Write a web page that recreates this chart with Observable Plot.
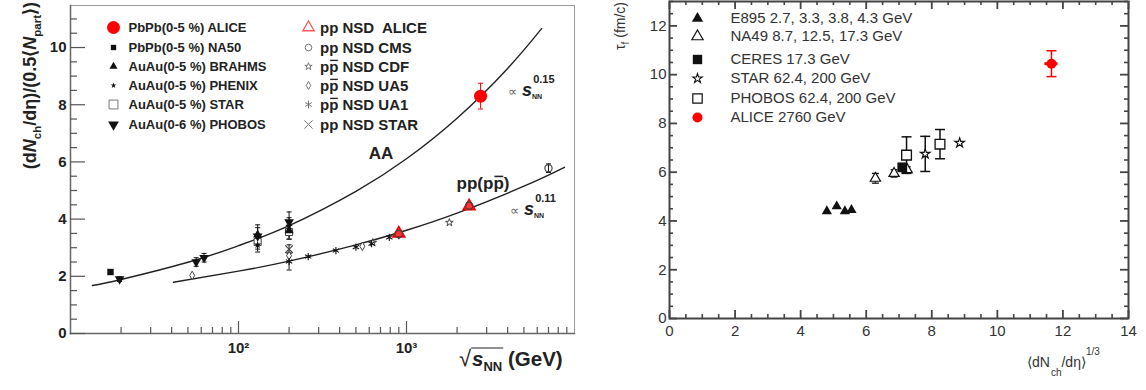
<!DOCTYPE html>
<html>
<head>
<meta charset="utf-8">
<script src="https://cdn.jsdelivr.net/npm/d3@7"></script>
<script src="https://cdn.jsdelivr.net/npm/@observablehq/plot@0.6"></script>
<style>
  body { margin: 0; background: #fff; }
  #wrap { position: relative; width: 1146px; height: 390px; overflow: hidden; background: #fff; }
  #left { position: absolute; left: 0; top: 0; width: 590px; height: 390px; }
  #right { position: absolute; left: 590px; top: 0; width: 556px; height: 390px; }
  .overlay { position: absolute; left: 0; top: 0; pointer-events: none; }
</style>
</head>
<body>
<div id="wrap"><div id="left"></div><div id="right"></div></div>
<script>
// ===== Left panel: (dNch/dη)/(0.5<Npart>) versus √sNN =====
// power-law guide curves (points along each curve)
const aaFit = [
  {s: 13.5, v: 1.68}, {s: 20, v: 1.89}, {s: 50, v: 2.49}, {s: 100, v: 3.07}, {s: 200, v: 3.77},
  {s: 500, v: 4.97}, {s: 1000, v: 6.11}, {s: 2000, v: 7.53}, {s: 4000, v: 9.27}, {s: 6370, v: 10.66}
];
const ppFit = [
  {s: 41, v: 1.79}, {s: 100, v: 2.18}, {s: 200, v: 2.53}, {s: 500, v: 3.10},
  {s: 1000, v: 3.61}, {s: 2000, v: 4.21}, {s: 5000, v: 5.15}, {s: 8710, v: 5.81}
];
// nucleus-nucleus measurements
const pbpbAlice  = [{s: 2760, v: 8.3, err: 0.45}];
const pbpbNA50   = [{s: 17.3, v: 2.15, err: 0.08}];
const auauBrahms = [{s: 130, v: 3.45, err: 0.35}, {s: 200, v: 3.6, err: 0.3}];
const auauPhenix = [{s: 130, v: 3.1, err: 0.25}, {s: 200, v: 3.75, err: 0.3}];
const auauStar   = [{s: 130, v: 3.2, err: 0.25}, {s: 200, v: 3.55, err: 0.25}];
const auauPhobos = [{s: 19.6, v: 1.9, err: 0.08}, {s: 56, v: 2.5, err: 0.15}, {s: 62.4, v: 2.65, err: 0.15},
                    {s: 130, v: 3.4, err: 0.3}, {s: 200, v: 3.9, err: 0.35}];
// pp / ppbar measurements
const ppAlice  = [{s: 900, v: 3.5, err: 0.1}, {s: 2360, v: 4.45, err: 0.12}];
const ppCMS    = [{s: 900, v: 3.48, err: 0.1}, {s: 2360, v: 4.47, err: 0.1}, {s: 7000, v: 5.78, err: 0.15}];
const ppbarCDF = [{s: 630, v: 3.18}, {s: 1800, v: 3.88}];
const ppbarUA5 = [{s: 53, v: 2.03}, {s: 200, v: 2.72}, {s: 546, v: 3.05}, {s: 900, v: 3.45}];
const ppbarUA1 = [{s: 200, v: 2.52, err: 0.3}, {s: 260, v: 2.69}, {s: 380, v: 2.9}, {s: 500, v: 3.02},
                  {s: 620, v: 3.14}, {s: 790, v: 3.36}, {s: 900, v: 3.45}];
const ppStar   = [{s: 200, v: 2.95, err: 0.15}];

// legend labels; "\u0305" marks an antiparticle bar over the preceding letter
const leftLegendA = ["PbPb(0-5 %) ALICE", "PbPb(0-5 %) NA50", "AuAu(0-5 %) BRAHMS",
                     "AuAu(0-5 %) PHENIX", "AuAu(0-5 %) STAR", "AuAu(0-6 %) PHOBOS"];
const leftLegendB = ["pp NSD  ALICE", "pp NSD CMS", "pp\u0305 NSD CDF",
                     "pp\u0305 NSD UA5", "pp\u0305 NSD UA1", "pp NSD STAR"];
const curveLabels = ["AA", "pp(pp\u0305)"];
const xTickValuesL = [100, 1000];
const xTickLabelsL = ["10\u00b2", "10\u00b3"];
const yTickValuesL = [0, 2, 4, 6, 8, 10];

// ===== Right panel: freeze-out time τf versus <dNch/dη>^(1/3) =====
const e895   = [{x: 4.8, v: 4.4}, {x: 5.1, v: 4.6}, {x: 5.35, v: 4.4}, {x: 5.55, v: 4.45}];
const na49   = [{x: 6.28, v: 5.75, err: 0.2}, {x: 6.85, v: 5.95, err: 0.15}, {x: 7.25, v: 6.1, err: 0.12}];
const ceres  = [{x: 7.1, v: 6.2}];
const starR  = [{x: 7.8, v: 6.75, err: 0.72}, {x: 8.85, v: 7.2, err: 0}];
const phobos = [{x: 7.23, v: 6.7, err: 0.75}, {x: 8.25, v: 7.15, err: 0.6}];
const alice  = [{x: 11.65, v: 10.45, err: 0.53, xerr: 0.2}];
const rightLegend = ["E895 2.7, 3.3, 3.8, 4.3 GeV", "NA49 8.7, 12.5, 17.3 GeV", "CERES 17.3 GeV",
                     "STAR 62.4, 200 GeV", "PHOBOS 62.4, 200 GeV", "ALICE 2760 GeV"];
const xTickValuesR = [0, 2, 4, 6, 8, 10, 12, 14];
const yTickValuesR = [0, 2, 4, 6, 8, 10, 12];

// ---------- helpers ----------
const FONT = "'Liberation Sans', Arial, Helvetica, sans-serif";
const capSymbol = {draw(ctx, size) { const r = Math.sqrt(size / Math.PI); ctx.moveTo(-r, 0); ctx.lineTo(r, 0); }};

// inward-pointing tick marks along one side of a frame of size fw x fh
function ticks(values, side, length, fw, fh, stroke, strokeWidth) {
  if (side === "bottom") return Plot.tickX(values, {x: Plot.identity, insetTop: fh - length, stroke, strokeWidth});
  if (side === "top") return Plot.tickX(values, {x: Plot.identity, insetBottom: fh - length, stroke, strokeWidth});
  if (side === "left") return Plot.tickY(values, {y: Plot.identity, insetRight: fw - length, stroke, strokeWidth});
  return Plot.tickY(values, {y: Plot.identity, insetLeft: fw - length, stroke, strokeWidth});
}
// vertical error bars with caps
function errY(data, xKey, {stroke = "#111", cap = 2.5, strokeWidth = 1} = {}) {
  const d = data.filter(p => p.err > 0);
  return [
    Plot.ruleX(d, {x: xKey, y1: p => p.v - p.err, y2: p => p.v + p.err, stroke, strokeWidth}),
    Plot.dot(d, {x: xKey, y: p => p.v - p.err, symbol: capSymbol, r: cap, stroke, strokeWidth}),
    Plot.dot(d, {x: xKey, y: p => p.v + p.err, symbol: capSymbol, r: cap, stroke, strokeWidth})
  ];
}
// legend symbol / label positioned from the frame's top-left corner
function legendDot(i, {mx, rows, sym}) {
  return Plot.dot([i], {frameAnchor: "top-left", dx: mx, dy: rows[i], ...sym[i]});
}
function legendText(label, i, {tx, rows, textOpts}) {
  return Plot.text([label], {frameAnchor: "top-left", dx: tx, dy: rows[i], text: d => d,
                             textAnchor: "start", lineAnchor: "middle", ...textOpts});
}
// text with sub/superscripts
function richText(svg, {x, y, rotate = 0, anchor = "start", size = 14, weight = "normal", fill = "#000"}, parts) {
  const t = d3.select(svg).append("text")
    .attr("transform", `translate(${x},${y}) rotate(${rotate})`)
    .attr("text-anchor", anchor).attr("font-family", FONT)
    .attr("font-size", size).attr("font-weight", weight).attr("fill", fill);
  let base = 0;
  for (const p of parts) {
    const off = p.off || 0;
    const ts = t.append("tspan").attr("dy", off - base).text(p.t);
    base = off;
    if (p.size) ts.attr("font-size", p.size);
    if (p.italic) ts.attr("font-style", "italic");
    if (p.weight) ts.attr("font-weight", p.weight);
    if (p.fill) ts.attr("fill", p.fill);
    if (p.dx) ts.attr("dx", p.dx);
  }
  return t;
}
// plain text where a letter followed by U+0305 receives a bar drawn above it
function barText(svg, str, {x, y, size, weight = "bold", fill = "#222", anchor = "start"}) {
  const bars = [];
  let plain = "";
  for (const ch of str) {
    if (ch === "\u0305") bars.push(plain.length - 1); else plain += ch;
  }
  const t = d3.select(svg).append("text")
    .attr("x", x).attr("y", y).attr("text-anchor", anchor).attr("font-family", FONT)
    .attr("font-size", size).attr("font-weight", weight).attr("fill", fill).text(plain);
  for (const i of bars) {
    const r = t.node().getExtentOfChar(i);
    d3.select(svg).append("line")
      .attr("x1", r.x + 1).attr("x2", r.x + r.width - 0.5)
      .attr("y1", y - 0.74 * size).attr("y2", y - 0.74 * size)
      .attr("stroke", fill).attr("stroke-width", size * 0.09);
  }
}

// ---------- left panel ----------
const ink = "#111";
const grey = "#444";
const LEFT_DIMS = {width: 590, height: 390, marginLeft: 70, marginRight: 16, marginTop: 5, marginBottom: 57};
const FW_L = 590 - 70 - 16, FH_L = 390 - 5 - 57;
const xScaleL = {type: "log", domain: [10, 10000]};
const yScaleL = {domain: [0, 11.47]};
const yMinorL = d3.range(0, 11.5, 0.5).filter(v => v % 2 !== 0);
const xMinorL = [20, 30, 40, 50, 60, 70, 80, 90, 200, 300, 400, 500, 600, 700, 800, 900,
                 2000, 3000, 4000, 5000, 6000, 7000, 8000, 9000];

const legSymA = [
  {symbol: "circle", r: 6.5, fill: "#f00"},
  {symbol: "square", r: 3, fill: ink},
  {symbol: "triangle", r: 3, fill: ink},
  {symbol: "star", r: 1.8, fill: ink},
  {symbol: "square", r: 5, fill: "none", stroke: "#777", strokeWidth: 1},
  {symbol: "triangle", r: 4, fill: ink, rotate: 180}
];
const legSymB = [
  {symbol: "triangle", r: 4.2, fill: "none", stroke: "#f55", strokeWidth: 1.3},
  {symbol: "circle", r: 3.3, fill: "none", stroke: "#777", strokeWidth: 1},
  {symbol: "star", r: 2.3, fill: "none", stroke: "#777", strokeWidth: 1},
  {symbol: "diamond", r: 2.4, fill: "none", stroke: "#777", strokeWidth: 1},
  {symbol: "asterisk", r: 3.6, stroke: "#777", strokeWidth: 1},
  {symbol: "times", r: 3.8, stroke: "#777", strokeWidth: 1}
];
const legRows = [22, 42, 61, 80, 99, 119];

const leftPlot = Plot.plot({
  ...LEFT_DIMS,
  style: {fontFamily: FONT, background: "#fff", overflow: "visible"},
  x: xScaleL,
  y: yScaleL,
  marks: [
    Plot.frame({stroke: "#999", strokeWidth: 1}),
    Plot.frame({anchor: "left", stroke: "#666", strokeWidth: 1.5}),
    Plot.frame({anchor: "bottom", stroke: "#666", strokeWidth: 1.5}),
    Plot.axisY({ticks: yTickValuesL, tickSize: 0, tickPadding: 4, fontSize: 15, fontWeight: "bold",
                fill: "#222", label: null}),
    Plot.axisX({ticks: xTickValuesL, tickFormat: d => xTickLabelsL[xTickValuesL.indexOf(d)],
                tickSize: 0, tickPadding: 9, fontSize: 15, fontWeight: "bold", fill: "#222", label: null}),
    // guide curves
    Plot.line(aaFit, {x: "s", y: "v", curve: "natural", stroke: "#222", strokeWidth: 1.4}),
    Plot.line(ppFit, {x: "s", y: "v", curve: "natural", stroke: "#222", strokeWidth: 1.4}),
    // error bars
    ...errY(auauPhobos, "s"), ...errY(auauBrahms, "s"), ...errY(auauPhenix, "s"), ...errY(auauStar, "s"),
    ...errY(ppbarUA1, "s"), ...errY(ppStar, "s"), ...errY(ppCMS, "s"),
    ...errY(pbpbAlice, "s", {stroke: "#f00", cap: 2.5}),
    ...errY(ppAlice, "s", {stroke: "#f00", cap: 2.5}),
    // pp / ppbar points
    Plot.dot(ppbarUA5, {x: "s", y: "v", symbol: "diamond", r: 2.6, fill: "#fff", stroke: grey, strokeWidth: 1}),
    Plot.dot(ppbarCDF, {x: "s", y: "v", symbol: "star", r: 2.4, fill: "#fff", stroke: grey, strokeWidth: 1}),
    Plot.dot(ppbarUA1, {x: "s", y: "v", symbol: "asterisk", r: 3.4, stroke: ink, strokeWidth: 1.1}),
    Plot.dot(ppStar, {x: "s", y: "v", symbol: "times", r: 3.6, stroke: grey, strokeWidth: 1.1}),
    Plot.dot(ppAlice, {x: "s", y: "v", symbol: "triangle", r: 4.4, fill: "#f33", stroke: "#e00", strokeWidth: 1.6}),
    Plot.dot(ppCMS, {x: "s", y: "v", symbol: "circle", r: 3.6, fill: "none", stroke: grey, strokeWidth: 1.2}),
    // nucleus-nucleus points
    Plot.dot(auauStar, {x: "s", y: "v", symbol: "square", r: 4, fill: "#fff", stroke: grey, strokeWidth: 1}),
    Plot.dot(pbpbNA50, {x: "s", y: "v", symbol: "square", r: 3.6, fill: ink}),
    Plot.dot(auauBrahms, {x: "s", y: "v", symbol: "triangle", r: 3.4, fill: ink}),
    Plot.dot(auauPhenix, {x: "s", y: "v", symbol: "star", r: 2.4, fill: ink}),
    Plot.dot(auauPhobos, {x: "s", y: "v", symbol: "triangle", r: 3.6, fill: ink, rotate: 180}),
    Plot.dot(pbpbAlice, {x: "s", y: "v", symbol: "circle", r: 6.5, fill: "#f00"}),
    // legend symbols and first-column labels
    ...legSymA.map((_, i) => legendDot(i, {mx: 43, rows: legRows, sym: legSymA})),
    ...legSymB.map((_, i) => legendDot(i, {mx: 238, rows: legRows, sym: legSymB})),
    ...leftLegendA.map((l, i) => legendText(l, i, {tx: 58, rows: legRows,
        textOpts: {fontSize: 13, fontWeight: "bold", fill: "#222"}}))
  ]
});
// tick marks of the left frame, on a transparent layer sharing the same scales
const leftTicks = Plot.plot({
  ...LEFT_DIMS,
  style: {background: "none", overflow: "visible"},
  x: {...xScaleL, axis: null},
  y: {...yScaleL, axis: null},
  marks: [
    ticks(yTickValuesL, "left", 15, FW_L, FH_L, "#555", 1.2),
    ticks(yMinorL, "left", 7, FW_L, FH_L, "#555", 1.2),
    ticks(xTickValuesL, "bottom", 12, FW_L, FH_L, "#555", 1.2),
    ticks(xMinorL, "bottom", 6, FW_L, FH_L, "#555", 1.2)
  ]
});

// ---------- right panel ----------
const RIGHT_DIMS = {width: 556, height: 390, marginLeft: 79, marginRight: 18, marginTop: 1, marginBottom: 72};
const FW_R = 556 - 79 - 18, FH_R = 390 - 1 - 72;
const xScaleR = {domain: [0, 14]};
const yScaleR = {domain: [0, 13]};
const xMinorR = d3.range(0, 14.01, 0.5).filter(v => v % 2 !== 0);
const yMinorR = d3.range(0, 13.01, 0.5).filter(v => v % 2 !== 0);
const axisInk = "#444";
const legSymR = [
  {symbol: "triangle", r: 4.2, fill: ink},
  {symbol: "triangle", r: 4.2, fill: "none", stroke: ink, strokeWidth: 1.2},
  {symbol: "square", r: 5.3, fill: ink},
  {symbol: "star", r: 3, fill: "none", stroke: ink, strokeWidth: 1.1},
  {symbol: "square", r: 5.3, fill: "none", stroke: ink, strokeWidth: 1.2},
  {symbol: "circle", r: 5, fill: "#f00"}
];
const legRowsR = [17, 35, 58, 77, 97, 116];
const rightPlot = Plot.plot({
  ...RIGHT_DIMS,
  style: {fontFamily: FONT, background: "#fff", overflow: "visible"},
  x: xScaleR,
  y: yScaleR,
  marks: [
    Plot.frame({stroke: axisInk, strokeWidth: 2}),
    Plot.axisX({ticks: xTickValuesR, tickSize: 0, tickPadding: 7, fontSize: 15, fill: "#333", label: null}),
    Plot.axisY({ticks: yTickValuesR, tickSize: 0, tickPadding: 3, fontSize: 15, fill: "#333", label: null}),
    // error bars
    ...errY(na49, "x", {cap: 3.5, strokeWidth: 1.3}),
    ...errY(phobos, "x", {cap: 5, strokeWidth: 1.5}),
    ...errY(starR, "x", {cap: 5, strokeWidth: 1.5}),
    ...errY(alice, "x", {stroke: "#f00", cap: 5, strokeWidth: 1.5}),
    Plot.ruleY(alice, {y: "v", x1: d => d.x - d.xerr, x2: d => d.x + d.xerr, stroke: "#f00", strokeWidth: 3}),
    // points
    Plot.dot(e895, {x: "x", y: "v", symbol: "triangle", r: 3.8, fill: ink}),
    Plot.dot(na49, {x: "x", y: "v", symbol: "triangle", r: 3.8, fill: "#fff", stroke: ink, strokeWidth: 1.2}),
    Plot.dot(ceres, {x: "x", y: "v", symbol: "square", r: 5.5, fill: ink}),
    Plot.dot(phobos, {x: "x", y: "v", symbol: "square", r: 5.5, fill: "#fff", stroke: ink, strokeWidth: 1.3}),
    Plot.dot(starR, {x: "x", y: "v", symbol: "star", r: 3, fill: "#fff", stroke: ink, strokeWidth: 1.2}),
    Plot.dot(alice, {x: "x", y: "v", symbol: "circle", r: 5, fill: "#f00"}),
    // legend
    ...legSymR.map((_, i) => legendDot(i, {mx: 28, rows: legRowsR, sym: legSymR})),
    ...rightLegend.map((l, i) => legendText(l, i, {tx: 61, rows: legRowsR, textOpts: {fontSize: 15, fill: "#333"}}))
  ]
});
// tick marks on all four sides of the right frame, on a transparent layer
const rightTicks = Plot.plot({
  ...RIGHT_DIMS,
  style: {background: "none", overflow: "visible"},
  x: {...xScaleR, axis: null},
  y: {...yScaleR, axis: null},
  marks: [
    ...["bottom", "top"].flatMap(side => [
      ticks(xTickValuesR, side, 8, FW_R, FH_R, axisInk, 1.8),
      ticks(xMinorR, side, 4, FW_R, FH_R, axisInk, 1.6)
    ]),
    ...["left", "right"].flatMap(side => [
      ticks(yTickValuesR, side, 8, FW_R, FH_R, axisInk, 1.8),
      ticks(yMinorR, side, 4, FW_R, FH_R, axisInk, 1.6)
    ])
  ]
});

document.getElementById("left").appendChild(leftPlot);
document.getElementById("right").appendChild(rightPlot);
leftTicks.classList.add("overlay");
rightTicks.classList.add("overlay");
document.getElementById("left").appendChild(leftTicks);
document.getElementById("right").appendChild(rightTicks);

// ---------- second legend column and curve labels (with antiparticle bars) ----------
leftLegendB.forEach((l, i) => barText(leftPlot, l, {x: 320, y: 5 + legRows[i] + 5.5, size: 15}));
barText(leftPlot, curveLabels[0], {x: 381, y: 159, size: 17, anchor: "middle"});
barText(leftPlot, curveLabels[1], {x: 483, y: 189, size: 17, anchor: "middle"});

// ---------- axis titles and power-law annotations ----------
richText(leftPlot, {x: 36, y: 2, rotate: -90, anchor: "end", size: 18, weight: "bold", fill: "#222"}, [
  {t: "(d"}, {t: "N", italic: true}, {t: "ch", size: 11.5, off: 5}, {t: "/d\u03b7)/(0.5\u27e8", off: 0},
  {t: "N", italic: true}, {t: "part", size: 11.5, off: 5}, {t: "\u27e9)", off: 0}
]);
const xl = richText(leftPlot, {x: 459, y: 366, size: 20.5, weight: "bold", fill: "#222"}, [
  {t: "\u221a", size: 22, weight: "normal"}, {t: "s", italic: true, dx: 1}, {t: "NN", size: 13, off: 5},
  {t: " (GeV)", off: 0}
]);
{
  const node = xl.node();
  const a = node.getStartPositionOfChar(1), b = node.getEndPositionOfChar(3);
  d3.select(leftPlot).append("line")
    .attr("transform", "translate(459,366)")
    .attr("x1", a.x - 1).attr("x2", b.x + 1).attr("y1", -18).attr("y2", -18)
    .attr("stroke", "#222").attr("stroke-width", 1.2);
}
richText(leftPlot, {x: 508, y: 96, size: 18, weight: "bold", fill: "#222"}, [
  {t: "\u221d", size: 13, weight: "normal", fill: "#666"}, {t: " s", italic: true},
  {t: "NN", size: 7, off: 3}, {t: "0.15", size: 11, off: -13, dx: -9}
]);
richText(leftPlot, {x: 510, y: 215, size: 18, weight: "bold", fill: "#222"}, [
  {t: "\u221d", size: 13, weight: "normal", fill: "#666"}, {t: " s", italic: true},
  {t: "NN", size: 7, off: 3}, {t: "0.11", size: 11, off: -13, dx: -9}
]);
richText(rightPlot, {x: 35, y: 2, rotate: -90, anchor: "end", size: 14, fill: "#333"}, [
  {t: "\u03c4"}, {t: "f", size: 10, off: 4}, {t: " (fm/c)", off: 0}
]);
richText(rightPlot, {x: 437, y: 367, size: 14, fill: "#333"}, [
  {t: "\u27e8dN"}, {t: "ch", size: 10, off: 9, dx: 1}, {t: "/d\u03b7\u27e9", off: 0}, {t: "1/3", size: 10, off: -12}
]);
</script>
</body>
</html>
